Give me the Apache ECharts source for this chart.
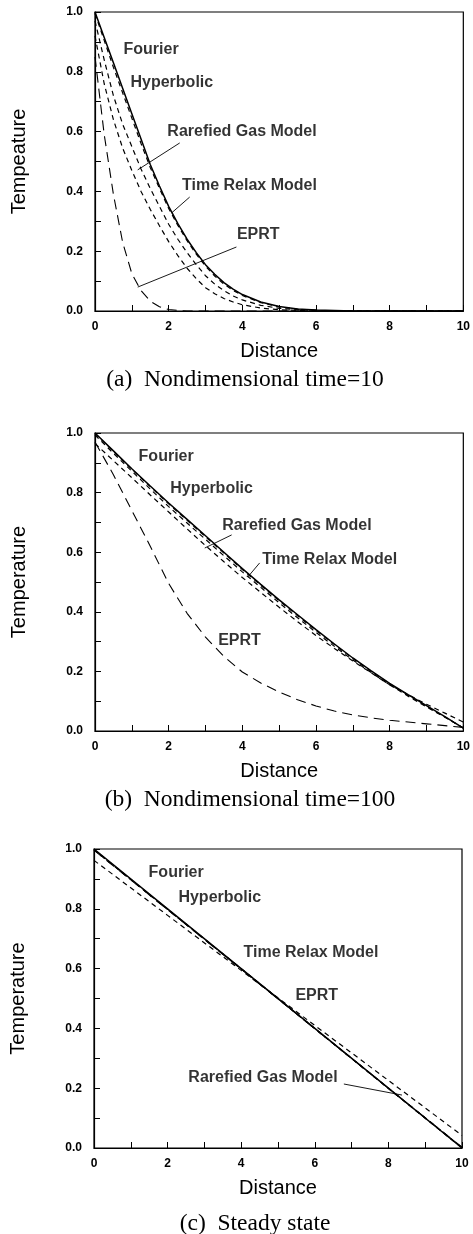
<!DOCTYPE html>
<html><head><meta charset="utf-8">
<script src="https://cdn.jsdelivr.net/npm/echarts@6/dist/echarts.min.js"></script>
<style>html,body{margin:0;padding:0;background:#fff}#c{width:473px;height:1234px}</style>
</head><body><div id="c"></div><script>
// ---------- DATA ----------
const xTickValues = [0,1,2,3,4,5,6,7,8,9,10];
const yTickValues = [0,0.1,0.2,0.3,0.4,0.5,0.6,0.7,0.8,0.9,1.0];
const yAxisTitles = ['Tempeature','Temperature','Temperature'];
const xAxisTitle = 'Distance';
const captions = ['(a)  Nondimensional time=10','(b)  Nondimensional time=100','(c)  Steady state'];
const seriesNames = ['Fourier','Hyperbolic','Rarefied Gas Model','Time Relax Model','EPRT'];

// Panel (a): nondimensional time = 10
const distA = [0,0.25,0.5,0.75,1,1.25,1.5,1.75,2,2.25,2.5,2.75,3,3.25,3.5,3.75,4,4.5,5,5.5,6,7,8,9,10];
const fourierA    = [1.0,0.915,0.83,0.745,0.66,0.575,0.49,0.418,0.35,0.292,0.24,0.195,0.155,0.123,0.095,0.073,0.055,0.03,0.015,0.007,0.003,0,0,0,0];
const hyperbolicA = [0.92,0.76,0.64,0.545,0.47,0.40,0.34,0.285,0.232,0.185,0.143,0.108,0.078,0.058,0.042,0.03,0.021,0.01,0.004,0.002,0,0,0,0,0];
const rarefiedA   = [0.97,0.84,0.72,0.625,0.55,0.475,0.41,0.35,0.29,0.24,0.195,0.155,0.118,0.09,0.068,0.05,0.037,0.019,0.009,0.004,0.002,0,0,0,0];
const timeRelaxA  = [0.995,0.905,0.815,0.73,0.645,0.56,0.48,0.41,0.343,0.286,0.235,0.19,0.15,0.117,0.09,0.069,0.052,0.028,0.014,0.006,0.002,0,0,0,0];
const eprtA       = [0.85,0.59,0.39,0.23,0.125,0.068,0.033,0.014,0.005,0.002,0,0,0,0,0,0,0,0,0,0,0,0,0,0,0];

// Panel (b): nondimensional time = 100
const distB = [0,0.5,1,1.5,2,2.5,3,3.5,4,4.5,5,5.5,6,6.5,7,7.5,8,8.5,9,9.5,10];
const fourierB    = [1.0,0.94,0.88,0.822,0.765,0.71,0.655,0.6,0.545,0.492,0.44,0.39,0.34,0.292,0.245,0.202,0.16,0.122,0.085,0.048,0.01];
const hyperbolicB = [0.998,0.938,0.878,0.82,0.762,0.707,0.652,0.597,0.542,0.489,0.437,0.387,0.337,0.29,0.243,0.2,0.158,0.12,0.083,0.047,0.01];
const rarefiedB   = [0.965,0.907,0.85,0.792,0.735,0.678,0.622,0.568,0.515,0.465,0.415,0.367,0.32,0.277,0.235,0.195,0.155,0.122,0.09,0.06,0.03];
const timeRelaxB  = [0.993,0.932,0.872,0.812,0.753,0.698,0.643,0.588,0.534,0.482,0.43,0.38,0.331,0.284,0.238,0.196,0.155,0.117,0.081,0.046,0.01];
const eprtB       = [0.97,0.86,0.74,0.62,0.495,0.395,0.315,0.25,0.198,0.161,0.131,0.105,0.084,0.067,0.054,0.044,0.036,0.03,0.024,0.018,0.012];

// Panel (c): steady state
const distC = [0,2,4,6,8,10];
const fourierC    = [1.0,0.8,0.6,0.4,0.2,0.0];
const hyperbolicC = [0.998,0.798,0.599,0.399,0.199,0.0];
const rarefiedC   = [0.962,0.778,0.594,0.41,0.226,0.042];
const timeRelaxC  = [0.997,0.798,0.6,0.4,0.2,0.002];
const eprtC       = [0.996,0.797,0.598,0.399,0.2,0.003];

// Annotation anchors (data coordinates) and pointer lines
const labelsA = [['Fourier',0.76,0.873],['Hyperbolic',0.95,0.763],['Rarefied Gas Model',1.95,0.60],['Time Relax Model',2.35,0.42],['EPRT',3.84,0.254]];
const pointersA = [[2.30,0.562,1.16,0.472],[2.57,0.381,2.08,0.328],[3.84,0.214,1.16,0.08]];
const labelsB = [['Fourier',1.17,0.92],['Hyperbolic',2.03,0.815],['Rarefied Gas Model',3.44,0.69],['Time Relax Model',4.53,0.574],['EPRT',3.33,0.305]];
const pointersB = [[3.71,0.658,2.98,0.614],[4.47,0.564,4.15,0.517]];
const labelsC = [['Fourier',1.47,0.92],['Hyperbolic',2.28,0.836],['Time Relax Model',4.05,0.652],['EPRT',5.46,0.51],['Rarefied Gas Model',2.55,0.237]];
const pointersC = [[6.79,0.214,8.37,0.177]];

// ---------- CHART ----------
const SANS = '"Liberation Sans", Arial, sans-serif';
const SERIF = '"Liberation Serif", "Times New Roman", serif';
const panels = [
  {grid:{left:95, top:12, width:370, height:299}, dist:distA, vals:[fourierA,hyperbolicA,rarefiedA,timeRelaxA,eprtA], labels:labelsA, pointers:pointersA, capY:380, capX:245},
  {grid:{left:95, top:433, width:369, height:298}, dist:distB, vals:[fourierB,hyperbolicB,rarefiedB,timeRelaxB,eprtB], labels:labelsB, pointers:pointersB, capY:800, capX:250},
  {grid:{left:94, top:849, width:368, height:299}, dist:distC, vals:[fourierC,hyperbolicC,rarefiedC,timeRelaxC,eprtC], labels:labelsC, pointers:pointersC, capY:1224, capX:255}
];
const lineStyles = [
  {type:'solid', width:1.5},
  {type:[5,4], width:1.2},
  {type:[5,4], width:1.2},
  {type:[5,4], width:1.2},
  {type:[10,6], width:1.1}
];

const grid = [], xAxis = [], yAxis = [], series = [], graphic = [];
panels.forEach((p, i) => {
  grid.push(Object.assign({show:true, borderColor:'#000', borderWidth:1.2, backgroundColor:'#fff'}, p.grid));
  xAxis.push({
    gridIndex:i, type:'value', min:xTickValues[0], max:xTickValues[xTickValues.length-1], interval:1,
    name:xAxisTitle, nameLocation:'middle', nameGap:30,
    nameTextStyle:{fontSize:20, fontFamily:SANS, color:'#000'},
    axisLine:{show:true, lineStyle:{color:'#000', width:1.2}},
    axisTick:{show:true, inside:true, length:6, lineStyle:{color:'#000', width:1}},
    axisLabel:{formatter:v => (Math.round(v) % 2 === 0 ? String(Math.round(v)) : ''), fontWeight:'bold', fontSize:12, fontFamily:SANS, color:'#000', margin:10},
    splitLine:{show:false}
  });
  yAxis.push({
    gridIndex:i, type:'value', min:yTickValues[0], max:yTickValues[yTickValues.length-1], interval:0.1,
    name:yAxisTitles[i], nameLocation:'middle', nameGap:66, nameRotate:90,
    nameTextStyle:{fontSize:20, fontFamily:SANS, color:'#000'},
    axisLine:{show:true, lineStyle:{color:'#000', width:1.2}},
    axisTick:{show:true, inside:true, length:6, lineStyle:{color:'#000', width:1}},
    axisLabel:{formatter:v => (Math.round(v*10) % 2 === 0 ? v.toFixed(1) : ''), fontWeight:'bold', fontSize:12, fontFamily:SANS, color:'#000', margin:12},
    splitLine:{show:false}
  });
  p.vals.forEach((vals, k) => {
    series.push({
      name:seriesNames[k], type:'line', xAxisIndex:i, yAxisIndex:i,
      data:p.dist.map((x, j) => [x, vals[j]]),
      symbol:'none', smooth:false, silent:true,
      lineStyle:Object.assign({color:'#000'}, lineStyles[k]), z:3
    });
  });
  series.push({
    type:'scatter', xAxisIndex:i, yAxisIndex:i, symbolSize:1, itemStyle:{color:'rgba(0,0,0,0)'}, silent:true, z:5,
    data:p.labels.map(l => ({value:[l[1], l[2]], name:l[0]})),
    label:{show:true, position:'right', distance:0, formatter:d => d.name, fontSize:16, fontWeight:'bold', fontFamily:SANS, color:'#000', verticalAlign:'middle'},
    labelLayout:{hideOverlap:false}
  });
  p.pointers.forEach(pt => {
    series.push({type:'line', xAxisIndex:i, yAxisIndex:i, symbol:'none', silent:true, z:4,
      data:[[pt[0], pt[1]], [pt[2], pt[3]]], lineStyle:{color:'#000', width:0.9, type:'solid'}});
  });
  graphic.push({type:'text', x:p.capX, y:p.capY,
    style:{text:captions[i], fontSize:23.5, fontFamily:SERIF, fill:'#000', align:'center', verticalAlign:'middle'}});
});

const chart = echarts.init(document.getElementById('c'), null, {renderer:'canvas'});
chart.setOption({animation:false, backgroundColor:'#fff', grid, xAxis, yAxis, series, graphic});
</script></body></html>
